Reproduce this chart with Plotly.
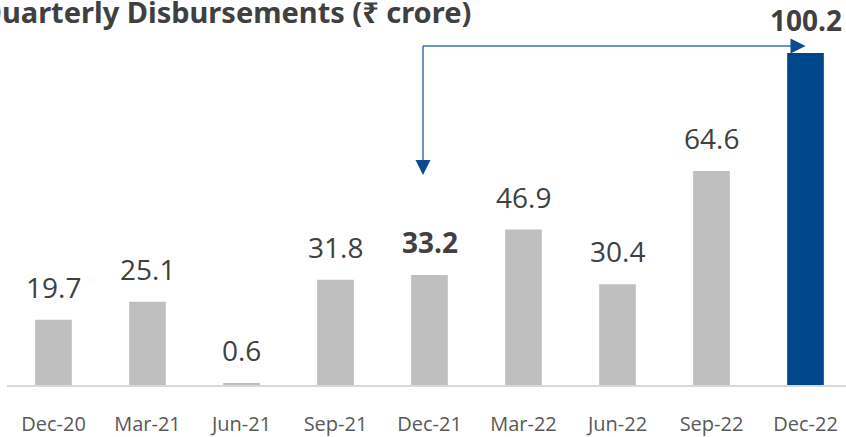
import plotly.graph_objects as go

# ---- data ----
quarters = ["Dec-20", "Mar-21", "Jun-21", "Sep-21", "Dec-21",
            "Mar-22", "Jun-22", "Sep-22", "Dec-22"]
disbursements = [19.7, 25.1, 0.6, 31.8, 33.2, 46.9, 30.4, 64.6, 100.2]
bold_labels = ["Dec-21", "Dec-22"]
highlight_bar = "Dec-22"
title_text = "Quarterly Disbursements (₹ crore)"

# ---- styling / layout constants ----
W, H = 846, 437
ML, MR, MT, MB = 7, 0, 0, 52
PX_PER_CAT = 94.0
PX_PER_UNIT = 3.313
GRAY = "#BFBFBF"
BLUE = "#00468A"
LABEL_COLOR = "#404040"
TICK_COLOR = "#595959"
FONT = "Open Sans, Noto Sans, sans-serif"
TITLE_FONT = "Noto Sans, Open Sans, sans-serif"

x0 = -0.5 + (ML - 6.5) / PX_PER_CAT
x1 = x0 + (W - ML - MR) / PX_PER_CAT
y_top = (H - MT - MB) / PX_PER_UNIT

colors = [BLUE if q == highlight_bar else GRAY for q in quarters]

fig = go.Figure(
    go.Bar(
        x=quarters,
        y=disbursements,
        marker=dict(color=colors, line=dict(width=0)),
        width=0.39,
        hoverinfo="skip",
    )
)

annotations = []
for i, (q, v) in enumerate(zip(quarters, disbursements)):
    txt = f"<b>{v}</b>" if q in bold_labels else f"{v}"
    annotations.append(dict(
        x=i, y=v, xref="x", yref="y", text=txt, showarrow=False,
        yanchor="bottom", xanchor="center", yshift=12,
        font=dict(family=FONT, size=28, color=LABEL_COLOR),
    ))

# title (left part clipped by the canvas edge, as in the reference)
annotations.append(dict(
    x=(473 - ML) / (W - ML - MR), y=1, xref="paper", yref="paper",
    xanchor="right", yanchor="top", yshift=10, showarrow=False,
    text=f"<b>{title_text}</b>",
    font=dict(family=TITLE_FONT, size=29, color=LABEL_COLOR),
))

# connector arrow from Dec-21 area to Dec-22 bar
i_to = quarters.index("Dec-22")
xa = -0.5 + (423 - 6.5) / PX_PER_CAT
y_h = (385 - 46) / PX_PER_UNIT
y_tip = (385 - 175) / PX_PER_UNIT
LINE_COL = "#3C6FAE"
HEAD_COL = "#0B4A8E"

shapes = [
    dict(type="line", xref="x", yref="y", x0=xa, y0=y_h, x1=i_to - 10 / PX_PER_CAT, y1=y_h,
         line=dict(color=LINE_COL, width=1.5)),
    dict(type="line", xref="x", yref="y", x0=xa, y0=y_h, x1=xa, y1=y_tip + 10 / PX_PER_UNIT,
         line=dict(color=LINE_COL, width=1.5)),
]
annotations.append(dict(
    x=i_to, y=y_h, xref="x", yref="y", ax=-16, ay=0, text="", showarrow=True,
    arrowhead=2, arrowsize=2, arrowwidth=1.5, arrowcolor=HEAD_COL,
))
annotations.append(dict(
    x=xa, y=y_tip, xref="x", yref="y", ax=0, ay=-16, text="", showarrow=True,
    arrowhead=2, arrowsize=2, arrowwidth=1.5, arrowcolor=HEAD_COL,
))

fig.update_layout(
    width=W, height=H,
    margin=dict(l=ML, r=MR, t=MT, b=MB, pad=0),
    paper_bgcolor="white", plot_bgcolor="white",
    showlegend=False,
    annotations=annotations,
    shapes=shapes,
    xaxis=dict(
        type="category", range=[x0, x1], showgrid=False, zeroline=False,
        showline=True, linecolor="#D9D9D9", linewidth=2, ticks="",
        tickfont=dict(family=FONT, size=20, color=TICK_COLOR),
        ticklabelstandoff=20, fixedrange=True,
    ),
    yaxis=dict(range=[0, y_top], visible=False, fixedrange=True),
)

fig.write_html(
    "out.html",
    config={"displayModeBar": False},
    post_script="document.body.style.margin='0';document.body.style.overflow='hidden';",
)
